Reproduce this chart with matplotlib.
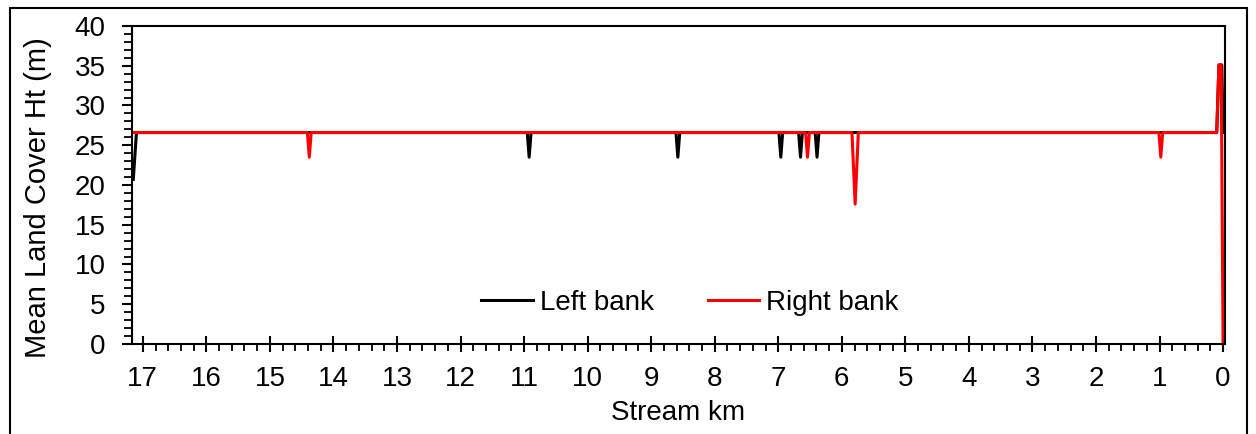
import matplotlib.pyplot as plt
from matplotlib.patches import Rectangle
from matplotlib.ticker import MultipleLocator

plt.rcParams['font.family'] = ['Liberation Sans', 'DejaVu Sans']

## hauteur moyenne du couvert vegetal (m) le long du cours d'eau, km depuis l'aval
## rive gauche : sommets de la courbe
left_km = [17.15, 17.10, 10.95, 10.92, 10.89, 8.61, 8.58, 8.55, 6.99, 6.96, 6.93,
           6.68, 6.65, 6.62, 6.42, 6.39, 6.36, 0.10, 0.065, 0.02, 0.0]
left_ht = [20.7, 26.6, 26.6, 23.5, 26.6, 26.6, 23.5, 26.6, 26.6, 23.5, 26.6,
           26.6, 23.5, 26.6, 26.6, 23.5, 26.6, 26.6, 35.1, 35.1, 26.6]

## rive droite
right_km = [17.15, 14.41, 14.38, 14.35, 6.57, 6.54, 6.51, 5.84, 5.79, 5.74,
            1.01, 0.98, 0.95, 0.10, 0.065, 0.03, 0.0]
right_ht = [26.6, 26.6, 23.5, 26.6, 26.6, 23.5, 26.6, 26.6, 17.6, 26.6,
            26.6, 23.5, 26.6, 26.6, 35.1, 35.1, 0.0]

fs = 20

fig = plt.figure(figsize=(12.56, 4.34), dpi=100)
ax = fig.add_axes([0.1051, 0.2074, 0.8702, 0.7327])

ax.plot(left_km, left_ht, color='black', lw=2.2, label='Left bank')
ax.plot(right_km, right_ht, color='red', lw=2.2, label='Right bank')

ax.set_xlim(17.17, -0.03)
ax.set_ylim(0, 40)
ax.xaxis.set_major_locator(MultipleLocator(1))
ax.xaxis.set_minor_locator(MultipleLocator(0.2))
ax.yaxis.set_major_locator(MultipleLocator(5))
ax.yaxis.set_minor_locator(MultipleLocator(1))

ax.tick_params(axis='x', which='major', direction='inout', length=11, width=1.5,
               labelsize=fs, pad=10)
ax.tick_params(axis='x', which='minor', direction='out', length=5, width=1.3)
ax.tick_params(axis='y', which='major', direction='out', length=7, width=1.5,
               labelsize=fs, pad=12)
ax.tick_params(axis='y', which='minor', direction='out', length=6, width=1.3)
for s in ax.spines.values():
    s.set_linewidth(1.5)

ax.set_xlabel('Stream km', fontsize=fs)
ax.set_ylabel('Mean Land Cover Ht (m)', fontsize=fs + 1)
ax.yaxis.set_label_coords(-0.073, 0.46)
ax.xaxis.set_label_coords(0.5, -0.175)

ax.legend(loc='center', bbox_to_anchor=(0.5105, 0.129), ncol=2, frameon=False,
          fontsize=fs, handlelength=1.86, handletextpad=0.25, columnspacing=1.93)

## cadre autour de la figure
fig.patches.append(Rectangle((10 / 1256, -0.05), 1237 / 1256, 1.05 - 8 / 434,
                             transform=fig.transFigure, fill=False,
                             edgecolor='black', lw=1.5))

fig.savefig('out.png', dpi=100)
